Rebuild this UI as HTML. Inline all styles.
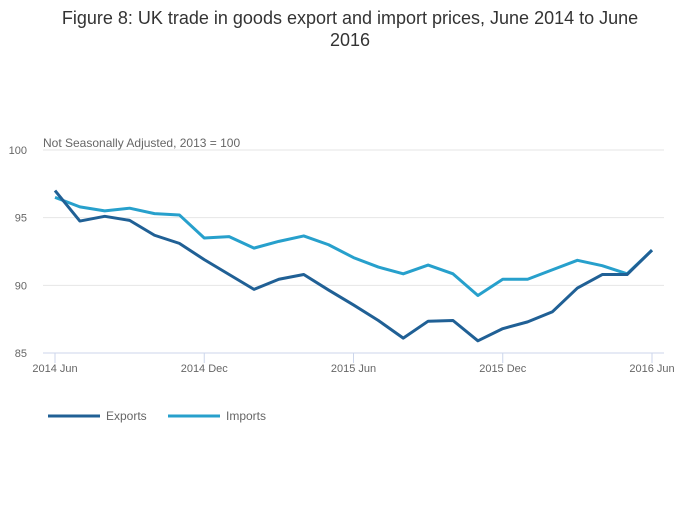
<!DOCTYPE html>
<html><head><meta charset="utf-8"><style>
body{margin:0;background:#fff;font-family:"Liberation Sans",sans-serif}
svg text{font-family:"Liberation Sans",sans-serif}
</style></head><body>
<svg id="c" width="700" height="502">
<text x="350" y="24" text-anchor="middle" font-size="18" fill="#333">Figure 8: UK trade in goods export and import prices, June 2014 to June</text>
<text x="350" y="46" text-anchor="middle" font-size="18" fill="#333">2016</text>
<text x="43" y="147" font-size="12" fill="#666">Not Seasonally Adjusted, 2013 = 100</text>
<g id="grid"></g><g id="lines"></g>
<g>
<line x1="48" y1="416" x2="100" y2="416" stroke="#206095" stroke-width="3"/>
<text x="106" y="420" font-size="12" fill="#666">Exports</text>
<line x1="168" y1="416" x2="220" y2="416" stroke="#27a0cc" stroke-width="3"/>
<text x="226" y="420" font-size="12" fill="#666">Imports</text>
</g>
</svg>
<script>
const exportsVals=[97.0,94.75,95.1,94.8,93.7,93.1,91.9,90.8,89.7,90.45,90.8,89.65,88.55,87.4,86.1,87.35,87.4,85.9,86.8,87.3,88.05,89.8,90.8,90.8,92.6];
const importsVals=[96.5,95.8,95.5,95.7,95.3,95.2,93.5,93.6,92.75,93.25,93.65,93.0,92.05,91.35,90.85,91.5,90.85,89.25,90.45,90.45,91.15,91.85,91.45,90.85,92.6];
const yTicks=[85,90,95,100];
const xTickLabels=["2014 Jun","2014 Dec","2015 Jun","2015 Dec","2016 Jun"];
const xTickIdx=[0,6,12,18,24];
const NS="http://www.w3.org/2000/svg";
const X=i=>55+i*(652-55)/24;
const Y=v=>353-(v-85)*(353-150)/15;
const grid=document.getElementById('grid'),lines=document.getElementById('lines');
function mk(tag,attrs,parent){const e=document.createElementNS(NS,tag);for(const k in attrs)e.setAttribute(k,attrs[k]);parent.appendChild(e);return e;}
yTicks.forEach(v=>{
 if(v>85){const l=mk('line',{x1:43,x2:664,y1:Y(v),y2:Y(v),stroke:'#e6e6e6'},grid);
 
 }
 const t=mk('text',{x:27,y:Y(v)+4,'font-size':11,fill:'#666','text-anchor':'end'},grid);t.textContent=v;
 
 
});
const ax=mk('line',{x1:43,x2:664,y1:353,y2:353,stroke:'#ccd6eb'},grid);


xTickIdx.forEach((idx,k)=>{
 mk('line',{x1:X(idx),x2:X(idx),y1:353,y2:363,stroke:'#ccd6eb'},grid);
 const t=mk('text',{x:X(idx),y:372,'font-size':11,fill:'#666','text-anchor':'middle'},grid);t.textContent=xTickLabels[k];
 
 
});
function series(vals,color,name){
 const p=mk('polyline',{points:vals.map((v,i)=>X(i)+','+Y(v)).join(' '),fill:'none',stroke:color,'stroke-width':3,'stroke-linejoin':'round'},lines);
 
 
}
series(importsVals,'#27a0cc','imports-line');
series(exportsVals,'#206095','exports-line');
</script>
</body></html>
